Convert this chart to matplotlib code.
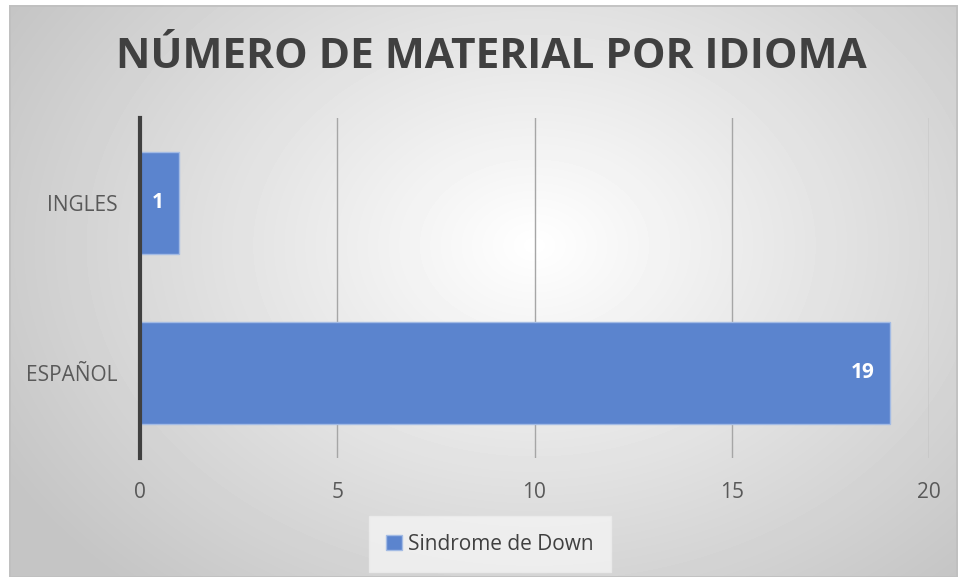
import numpy as np
from matplotlib import pyplot as plt
from matplotlib.patches import Rectangle

categorias = ["ESPAÑOL", "INGLES"]
valores = [19, 1]
serie = "Sindrome de Down"
titulo = "NÚMERO DE MATERIAL POR IDIOMA"
xticks = [0, 5, 10, 15, 20]

plt.rcParams['font.family'] = ['Open Sans', 'DejaVu Sans']

W, H = 958, 577
fig = plt.figure(figsize=(W/100, H/100), dpi=100)
fig.patch.set_facecolor('white')

# radial gradient background of the chart area
bg = fig.add_axes([9/W, 0, 1-9/W, 1-5/H])
yy, xx = np.mgrid[0:572:1, 0:949:1]
cx, cy = 525, 240
r = np.sqrt(((xx-cx)/560.0)**2 + ((yy-cy)/420.0)**2)
g = np.clip(1.0 - 0.21*r, 0.77, 1.0)
bg.imshow(g, cmap='gray', vmin=0, vmax=1, aspect='auto', interpolation='bilinear')
bg.set_axis_off()
bg.add_patch(Rectangle((0, 0), 948, 571, fill=False, edgecolor='#bfbfbf', lw=1.2))

ax = fig.add_axes([140/W, 1-458/H, 789/W, 340/H])
ax.patch.set_alpha(0)
y = np.arange(len(categorias))
bars = ax.barh(y, valores, height=0.6, color='#5b84ce', edgecolor='#a3bbe4', linewidth=1, zorder=3)
ax.set_xlim(0, 20)
ax.set_ylim(-0.5, 1.5)
ax.set_xticks(xticks)
ax.set_xticklabels([str(v) for v in xticks])
ax.set_yticks(y)
ax.set_yticklabels(categorias)
ax.tick_params(axis='both', length=0, labelsize=15, labelcolor='#595959')
ax.tick_params(axis='x', pad=17)
ax.tick_params(axis='y', pad=16)
ax.grid(axis='x', color='#a6a6a6', linewidth=1, zorder=0)
for s in ['top', 'right', 'bottom']:
    ax.spines[s].set_visible(False)
ax.spines['left'].set_color('#404040')
ax.spines['left'].set_linewidth(3)
ax.spines['left'].set_zorder(4)

for b, v in zip(bars, valores):
    ax.annotate(str(v), (b.get_width(), b.get_y()+b.get_height()/2),
                xytext=(-11, 0), textcoords='offset points', ha='right', va='center',
                color='white', fontweight='bold', fontsize=15, zorder=5)

fig.text(491/W, 1-57/H, titulo, ha='center', va='center', fontsize=30.5,
         fontweight='bold', color='#404040')

leg = fig.legend([bars], [serie], loc='center', bbox_to_anchor=(490/W, 1-544/H),
                 frameon=True, fontsize=15, handlelength=0.75, handleheight=0.75,
                 handletextpad=0.3, borderpad=0.55, borderaxespad=0)
leg.get_frame().set_facecolor('#f4f4f4')
leg.get_frame().set_edgecolor('#ececec')
leg.get_frame().set_boxstyle('square')
for t in leg.get_texts():
    t.set_color('#404040')

fig.savefig('out.png', dpi=100)
